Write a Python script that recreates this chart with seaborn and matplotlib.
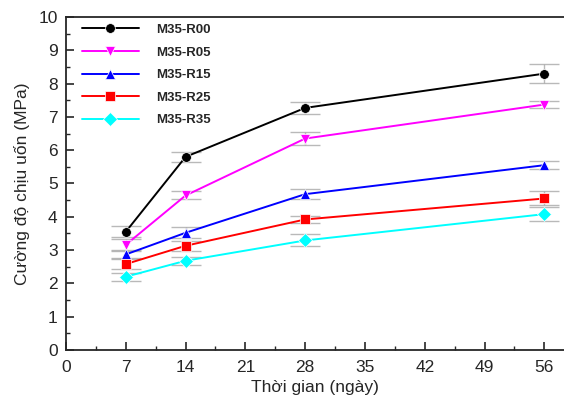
import matplotlib
matplotlib.use('Agg')
import matplotlib.pyplot as plt
import pandas as pd
import seaborn as sns
from matplotlib.ticker import MultipleLocator

# days of testing
days = [7, 14, 28, 56]
series_names = ['M35-R00', 'M35-R05', 'M35-R15', 'M35-R25', 'M35-R35']

# flexural strength (MPa)
r00 = [3.55, 5.80, 7.27, 8.30]
r05 = [3.16, 4.64, 6.35, 7.37]
r15 = [2.87, 3.52, 4.68, 5.55]
r25 = [2.58, 3.13, 3.92, 4.55]
r35 = [2.20, 2.68, 3.29, 4.08]

# error bar half-widths
e00 = [0.17, 0.14, 0.17, 0.29]
e05 = [0.17, 0.12, 0.19, 0.11]
e15 = [0.11, 0.17, 0.15, 0.12]
e25 = [0.15, 0.15, 0.11, 0.21]
e35 = [0.12, 0.12, 0.18, 0.22]

values = [r00, r05, r15, r25, r35]
errors = [e00, e05, e15, e25, e35]
colors = ['#000000', '#ff00ff', '#0000ff', '#ff0000', '#00ffff']
markers = ['o', 'v', '^', 's', 'D']

rows = []
for name, vals in zip(series_names, values):
    for d, v in zip(days, vals):
        rows.append({'day': d, 'strength': v, 'series': name})
frame = pd.DataFrame(rows)

sns.set_style('ticks')
plt.rcParams['font.family'] = ['Liberation Sans', 'DejaVu Sans']

fig = plt.figure(figsize=(5.64, 4.0), dpi=100)
ax = fig.add_axes([0.117, 0.125, 0.883, 0.8325])

# error bars first, under the lines
for vals, errs in zip(values, errors):
    ax.errorbar(days, vals, yerr=errs, fmt='none', ecolor='#a8a8a8',
                elinewidth=1.0, capsize=11, capthick=1.0, alpha=0.8, zorder=1)

sns.lineplot(data=frame, x='day', y='strength', hue='series', style='series',
             palette=dict(zip(series_names, colors)),
             markers=dict(zip(series_names, markers)),
             dashes=False, markersize=7, linewidth=1.4,
             markeredgewidth=0.5, ax=ax, zorder=2)

ax.set_xlim(0, 58.3)
ax.set_ylim(0, 10)
ax.xaxis.set_major_locator(MultipleLocator(7))
ax.xaxis.set_minor_locator(MultipleLocator(3.5))
ax.yaxis.set_major_locator(MultipleLocator(1))
ax.yaxis.set_minor_locator(MultipleLocator(0.5))
ax.tick_params(which='major', direction='in', length=6, width=1.2, labelsize=12.5)
ax.tick_params(axis='x', which='major', pad=7)
ax.tick_params(axis='y', which='major', pad=6)
ax.tick_params(which='minor', direction='in', length=3, width=1.0)
for s in ['left', 'bottom', 'top']:
    ax.spines[s].set_linewidth(1.3)
    ax.spines[s].set_visible(True)
ax.spines['right'].set_visible(False)

ax.set_xlabel('Thời gian (ngày)', fontsize=12.5, labelpad=4)
ax.set_ylabel('Cường độ chịu uốn (MPa)', fontsize=12.5, labelpad=6)

leg = ax.legend(loc='upper left', frameon=False, fontsize=9.5,
                handlelength=4.3, labelspacing=0.78, handletextpad=1.35,
                bbox_to_anchor=(0.0, 1.027), borderaxespad=0.8)
for t in leg.get_texts():
    t.set_fontweight('bold')

fig.savefig('out.png', dpi=100)
